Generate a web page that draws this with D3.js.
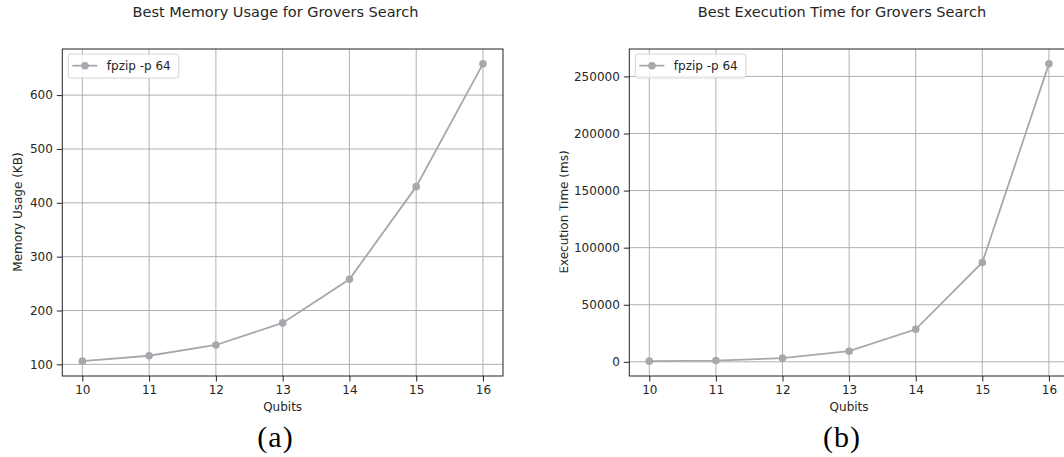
<!DOCTYPE html>
<html>
<head>
<meta charset="utf-8">
<script src="https://cdn.jsdelivr.net/npm/d3@7"></script>
<style>
  html, body { margin: 0; padding: 0; background: #fff; }
  svg { display: block; }
  text { font-family: "DejaVu Sans", sans-serif; fill: #262626; }
  text.tag { font-family: "Liberation Serif", "DejaVu Serif", serif; fill: #000; }
</style>
</head>
<body>
<svg id="fig" width="1064" height="457"></svg>
<script>
// Qubit counts on the x axis
const qubits = [10, 11, 12, 13, 14, 15, 16];
// Best memory usage (KB) per qubit count
const memoryKB = [106, 116, 136, 177, 258, 430, 658];
// Best execution time (ms) per qubit count
const execMs = [600, 1100, 3200, 9300, 28500, 87000, 261000];

const seriesName = "fpzip -p 64";
const memTicks = [100, 200, 300, 400, 500, 600];
const timeTicks = [0, 50000, 100000, 150000, 200000, 250000];

const lineColor = "#a8a7ad";
const gridColor = "#b0b0b0";

const svg = d3.select("#fig");

// pad a data extent by 5% on each side, like the usual auto-scaling
function padded(values) {
  const [lo, hi] = d3.extent(values);
  const m = (hi - lo) * 0.05;
  return [lo - m, hi + m];
}

function panel(opt) {
  const root = svg.append("g");
  if (opt.clip) {
    svg.append("clipPath").attr("id", opt.id + "-clip")
      .append("rect").attr("x", opt.clip[0]).attr("y", 0)
      .attr("width", opt.clip[1] - opt.clip[0]).attr("height", 457);
    root.attr("clip-path", `url(#${opt.id}-clip)`);
  }
  const x = d3.scaleLinear().domain([9.7, 16.3]).range([opt.left, opt.right]);
  const y = d3.scaleLinear().domain(padded(opt.values)).range([376, 49]);

  // grid
  const grid = root.append("g");
  grid.selectAll(".gx").data(qubits).join("line")
    .attr("x1", d => x(d)).attr("x2", d => x(d))
    .attr("y1", 49).attr("y2", 376)
    .attr("stroke", gridColor).attr("stroke-width", 1);
  grid.selectAll(".gy").data(opt.ticks).join("line")
    .attr("x1", opt.left).attr("x2", opt.right)
    .attr("y1", d => y(d)).attr("y2", d => y(d))
    .attr("stroke", gridColor).attr("stroke-width", 1);

  // axes
  const xAxis = d3.axisBottom(x).tickValues(qubits).tickSize(5.5).tickPadding(4)
    .tickFormat(d3.format("d"));
  const yAxis = d3.axisLeft(y).tickValues(opt.ticks).tickSize(5.5).tickPadding(4)
    .tickFormat(d3.format("d"));
  const gx = root.append("g").attr("transform", "translate(0,376)").call(xAxis);
  const gy = root.append("g").attr("transform", `translate(${opt.left},0)`).call(yAxis);
  [gx, gy].forEach(g => {
    g.select(".domain").remove();
    g.selectAll(".tick line").attr("stroke", "#222").attr("stroke-width", 1);
    g.selectAll(".tick text").attr("font-size", 12).attr("fill", "#262626")
      .attr("font-family", "DejaVu Sans, sans-serif");
  });

  // frame
  root.append("rect").attr("x", opt.left).attr("y", 49)
    .attr("width", opt.right - opt.left).attr("height", 327)
    .attr("fill", "none").attr("stroke", "#222").attr("stroke-width", 1);

  // series
  const line = d3.line().x((d, i) => x(qubits[i])).y(d => y(d));
  root.append("path").datum(opt.values).attr("d", line)
    .attr("fill", "none").attr("stroke", lineColor).attr("stroke-width", 1.8);
  root.selectAll(".pt").data(opt.values).join("circle")
    .attr("cx", (d, i) => x(qubits[i])).attr("cy", d => y(d)).attr("r", 3.8)
    .attr("fill", lineColor);

  // legend
  const lg = root.append("g").attr("transform", `translate(${opt.left + 6},54)`);
  lg.append("rect").attr("width", 110.5).attr("height", 24).attr("rx", 2.5)
    .attr("fill", "#fff").attr("fill-opacity", 0.8)
    .attr("stroke", "#d4d4d4").attr("stroke-width", 1);
  lg.append("line").attr("x1", 4).attr("x2", 29).attr("y1", 11.7).attr("y2", 11.7)
    .attr("stroke", lineColor).attr("stroke-width", 1.8);
  lg.append("circle").attr("cx", 16.7).attr("cy", 11.7).attr("r", 3.8).attr("fill", lineColor);
  lg.append("text").attr("x", 38.5).attr("y", 16).attr("font-size", 12).text(seriesName);

  // titles and labels
  root.append("text").attr("x", opt.titleX).attr("y", 17).attr("text-anchor", "middle")
    .attr("font-size", 14.5).text(opt.title);
  root.append("text").attr("x", (opt.left + opt.right) / 2).attr("y", 411)
    .attr("text-anchor", "middle").attr("font-size", 12).text("Qubits");
  root.append("text")
    .attr("transform", `translate(${opt.ylabelX},${opt.ylabelY}) rotate(-90)`)
    .attr("text-anchor", "middle").attr("font-size", 12).text(opt.ylabel);
  svg.append("text").attr("class", "tag").attr("x", opt.titleX).attr("y", 447)
    .attr("text-anchor", "middle").attr("font-size", 30)
    .style("letter-spacing", "1px").text(opt.tag);
}

panel({
  id: "mem", values: memoryKB, ticks: memTicks, left: 62.3, right: 503,
  title: "Best Memory Usage for Grovers Search", titleX: 275.5,
  ylabel: "Memory Usage (KB)", ylabelX: 21.5, ylabelY: 212, tag: "(a)"
});
panel({
  id: "time", values: execMs, ticks: timeTicks, left: 629.3, right: 1068.9,
  clip: [559.5, 1064],
  title: "Best Execution Time for Grovers Search", titleX: 842,
  ylabel: "Execution Time (ms)", ylabelX: 567.5, ylabelY: 212, tag: "(b)"
});
</script>
</body>
</html>
